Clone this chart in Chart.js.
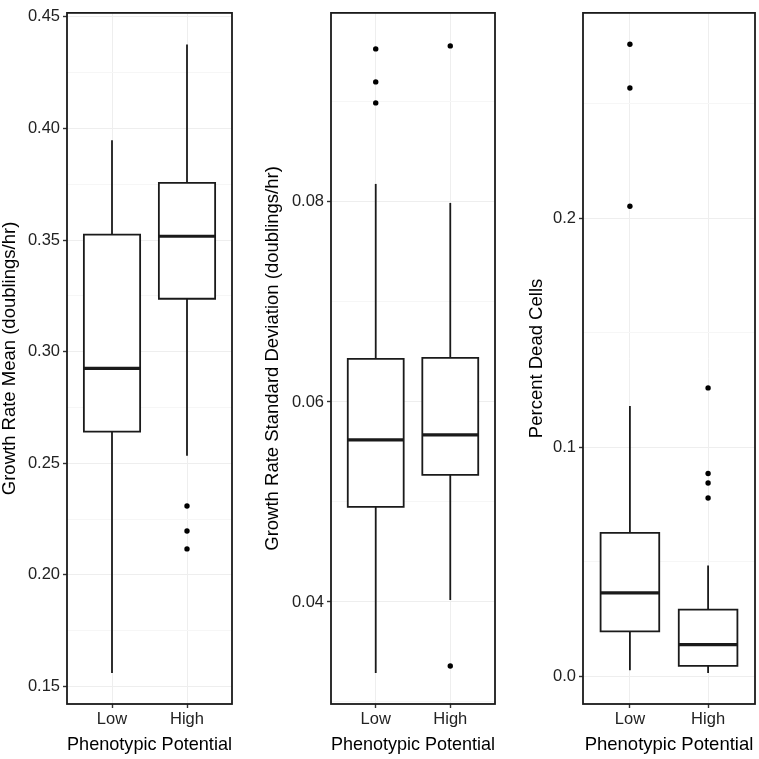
<!DOCTYPE html>
<html>
<head>
<meta charset="utf-8">
<script src="https://cdn.jsdelivr.net/npm/chart.js@4.4.0/dist/chart.umd.min.js"></script>
<style>
  html, body { margin: 0; padding: 0; background: #fff; }
  #wrap { position: relative; width: 759px; height: 759px; overflow: hidden; }
  canvas { position: absolute; top: 0; }
</style>
</head>
<body>
<div id="wrap">
  <canvas id="meanChart" width="240" height="759" style="left:0px"></canvas>
  <canvas id="sdChart" width="250" height="759" style="left:253px"></canvas>
  <canvas id="deadChart" width="253" height="759" style="left:506px"></canvas>
</div>
<script>
// Categories (x axis)
const categories = ['Low', 'High'];

// Panel 1: growth rate mean
const meanLower = [0.156, 0.2533];
const meanQ1 = [0.2642, 0.3237];
const meanMedian = [0.2925, 0.3517];
const meanQ3 = [0.3524, 0.3756];
const meanUpper = [0.3947, 0.4376];
const meanOutliers = [[], [0.2308, 0.2196, 0.2116]];
const meanTicks = [0.15, 0.20, 0.25, 0.30, 0.35, 0.40, 0.45];
const meanTickLabels = ['0.15', '0.20', '0.25', '0.30', '0.35', '0.40', '0.45'];
const meanMinorTicks = [0.175, 0.225, 0.275, 0.325, 0.375, 0.425];

// Panel 2: growth rate standard deviation
const sdLower = [0.0329, 0.0402];
const sdQ1 = [0.0495, 0.0527];
const sdMedian = [0.0562, 0.0567];
const sdQ3 = [0.0643, 0.0644];
const sdUpper = [0.0818, 0.0799];
const sdOutliers = [[0.0953, 0.0920, 0.0899], [0.0956, 0.0336]];
const sdTicks = [0.04, 0.06, 0.08];
const sdTickLabels = ['0.04', '0.06', '0.08'];
const sdMinorTicks = [0.03, 0.05, 0.07, 0.09];

// Panel 3: percent dead cells
const deadLower = [0.0026, 0.0014];
const deadQ1 = [0.0196, 0.0045];
const deadMedian = [0.0364, 0.0138];
const deadQ3 = [0.0626, 0.0291];
const deadUpper = [0.118, 0.0484];
const deadOutliers = [[0.2759, 0.2568, 0.2052], [0.1259, 0.0885, 0.0844, 0.0778]];
const deadTicks = [0.0, 0.1, 0.2];
const deadTickLabels = ['0.0', '0.1', '0.2'];
const deadMinorTicks = [0.05, 0.15, 0.25];

const FONT = "'Liberation Sans', Arial, Helvetica, sans-serif";
const INK = '#1a1a1a';
const BOX_HALF = 0.375;

// Black frame round the plot area (theme_bw panel border)
const panelBorder = {
    id: 'panelBorder',
    afterDraw(chart) {
        const { ctx, chartArea: a } = chart;
        ctx.save();
        ctx.strokeStyle = INK;
        ctx.lineWidth = 1.8;
        ctx.strokeRect(a.left, a.top, a.right - a.left, a.bottom - a.top);
        ctx.restore();
    }
};

const segment = (points, width, order) => ({
    data: points,
    showLine: true,
    borderColor: INK,
    borderWidth: width,
    pointRadius: 0,
    borderCapStyle: 'butt',
    order: order
});

const buildDatasets = (lower, q1, median, q3, upper, outliers) => {
    const ds = [];
    categories.forEach((cat, i) => {
        const c = i + 1;
        // whiskers
        ds.push(segment([{ x: c, y: q3[i] }, { x: c, y: upper[i] }], 1.8, 4));
        ds.push(segment([{ x: c, y: q1[i] }, { x: c, y: lower[i] }], 1.8, 4));
        // box
        ds.push({
            data: [
                { x: c - BOX_HALF, y: q1[i] },
                { x: c + BOX_HALF, y: q1[i] },
                { x: c + BOX_HALF, y: q3[i] },
                { x: c - BOX_HALF, y: q3[i] },
                { x: c - BOX_HALF, y: q1[i] }
            ],
            showLine: true,
            borderColor: INK,
            borderWidth: 1.8,
            borderJoinStyle: 'miter',
            borderCapStyle: 'square',
            backgroundColor: '#ffffff',
            fill: 'shape',
            pointRadius: 0,
            order: 3
        });
        // median
        ds.push(segment([{ x: c - BOX_HALF, y: median[i] }, { x: c + BOX_HALF, y: median[i] }], 3.2, 2));
        // outliers
        ds.push({
            data: outliers[i].map(v => ({ x: c, y: v })),
            showLine: false,
            pointRadius: 2.7,
            pointBackgroundColor: '#000',
            pointBorderWidth: 0,
            order: 1
        });
    });
    return ds;
};

const makePanel = (id, cfg) => {
    const isMajor = (v) => cfg.ticks.some(t => Math.abs(t - v) < 1e-9);
    const allTicks = cfg.ticks.concat(cfg.minor).sort((a, b) => a - b);

    return new Chart(document.getElementById(id), {
        type: 'scatter',
        data: { datasets: buildDatasets(cfg.lower, cfg.q1, cfg.median, cfg.q3, cfg.upper, cfg.outliers) },
        options: {
            responsive: false,
            animation: false,
            events: [],
            layout: { padding: { top: 6, right: cfg.padRight, left: 0, bottom: 0 } },
            plugins: { legend: { display: false }, tooltip: { enabled: false } },
            scales: {
                x: {
                    type: 'linear',
                    min: 0.4,
                    max: 2.6,
                    afterBuildTicks: (s) => { s.ticks = categories.map((c, i) => ({ value: i + 1 })); },
                    afterFit: (s) => { s.height = 55; },
                    ticks: {
                        callback: (v) => categories[Math.round(v) - 1],
                        font: { family: FONT, size: 16.5, lineHeight: 1.2 },
                        color: '#222',
                        padding: 2,
                        maxRotation: 0,
                        minRotation: 0,
                        autoSkip: false
                    },
                    grid: { color: '#eeeeee', lineWidth: 1, tickColor: '#333', tickLength: 4, tickWidth: 1.4 },
                    border: { display: false },
                    title: {
                        display: true,
                        text: 'Phenotypic Potential',
                        font: { family: FONT, size: 18.5, lineHeight: 1.2 },
                        color: '#000',
                        padding: { top: 0, bottom: 3 }
                    }
                },
                y: {
                    type: 'linear',
                    min: cfg.range[0],
                    max: cfg.range[1],
                    afterBuildTicks: (s) => { s.ticks = allTicks.map(v => ({ value: v })); },
                    afterFit: (s) => { s.width = cfg.yWidth; },
                    ticks: {
                        callback: (v) => {
                            const k = cfg.ticks.findIndex(t => Math.abs(t - v) < 1e-9);
                            return k >= 0 ? cfg.labels[k] : '';
                        },
                        font: { family: FONT, size: 16.5 },
                        color: '#222',
                        padding: 3,
                        autoSkip: false
                    },
                    grid: {
                        color: (ctx) => (ctx.tick && isMajor(ctx.tick.value)) ? '#eeeeee' : '#f6f6f6',
                        tickColor: (ctx) => (ctx.tick && isMajor(ctx.tick.value)) ? '#333' : 'rgba(0,0,0,0)',
                        lineWidth: 1,
                        tickLength: 4,
                        tickWidth: 1.4
                    },
                    border: { display: false },
                    title: {
                        display: true,
                        text: cfg.title,
                        font: { family: FONT, size: 18.5, lineHeight: 1.1 },
                        color: '#000',
                        padding: { top: cfg.titlePad, bottom: 0 }
                    }
                }
            }
        },
        plugins: [panelBorder]
    });
};

makePanel('meanChart', {
    lower: meanLower, q1: meanQ1, median: meanMedian, q3: meanQ3, upper: meanUpper, outliers: meanOutliers,
    ticks: meanTicks, labels: meanTickLabels, minor: meanMinorTicks,
    range: [0.1421, 0.4518],
    title: 'Growth Rate Mean (doublings/hr)',
    yWidth: 67, padRight: 8, titlePad: 0
});

makePanel('sdChart', {
    lower: sdLower, q1: sdQ1, median: sdMedian, q3: sdQ3, upper: sdUpper, outliers: sdOutliers,
    ticks: sdTicks, labels: sdTickLabels, minor: sdMinorTicks,
    range: [0.0298, 0.0989],
    title: 'Growth Rate Standard Deviation (doublings/hr)',
    yWidth: 78, padRight: 8, titlePad: 10
});

makePanel('deadChart', {
    lower: deadLower, q1: deadQ1, median: deadMedian, q3: deadQ3, upper: deadUpper, outliers: deadOutliers,
    ticks: deadTicks, labels: deadTickLabels, minor: deadMinorTicks,
    range: [-0.0121, 0.2896],
    title: 'Percent Dead Cells',
    yWidth: 77, padRight: 3, titlePad: 21
});
</script>
</body>
</html>
